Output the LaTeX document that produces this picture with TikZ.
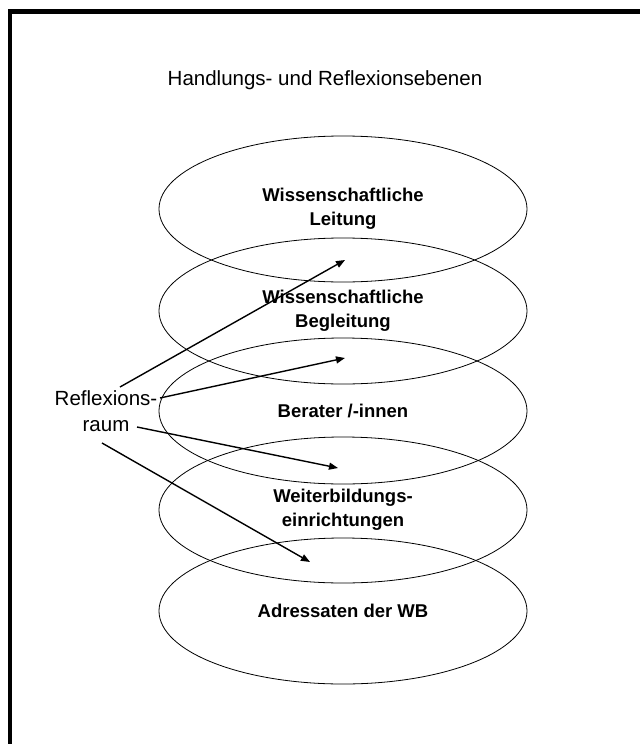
\documentclass[tikz,border=0pt]{standalone}
\usepackage{fontspec}
\setmainfont{Liberation Sans}
\usetikzlibrary{arrows.meta,shapes.geometric}

\tikzset{
  ebene/.style={ellipse, draw, line width=0.8pt, minimum width=368pt, minimum height=146pt,
    inner sep=0pt, align=center, font=\bfseries\fontsize{18.5}{24}\selectfont},
  pfeil/.style={-{Triangle[length=9pt,width=7pt]}, line width=1.4pt},
}

\begin{document}
\begin{tikzpicture}[x=1pt,y=-1pt]
    \useasboundingbox (0,0) rectangle (640,744);
    % rahmen
    \fill (8,9) rectangle (12,744);
    \fill (8,9) rectangle (640,11.5);
    \draw[line width=1.2pt] (12,13) -- (640,13);

    \node[font=\fontsize{20.5}{25}\selectfont] (titel) at (325,80) {Handlungs- und Reflexionsebenen};

    \node[ebene] (leitung) at (343,209) {Wissenschaftliche\\Leitung};
    \node[ebene] (begleitung) at (343,311) {Wissenschaftliche\\Begleitung};
    \node[ebene] (berater) at (343,411) {Berater /-innen};
    \node[ebene] (einrichtungen) at (343,510) {Weiterbildungs-\\einrichtungen};
    \node[ebene] (adressaten) at (343,611) {Adressaten der WB};

    \node[font=\fontsize{20.5}{26}\selectfont, align=center] (raum) at (106,411) {Reflexions-\\raum};

    % pfeile
    \coordinate (s1) at (120,387);
    \coordinate (s2) at (160,398);
    \coordinate (s3) at (137,427);
    \coordinate (s4) at (102,443);
    \coordinate (z1) at (345,260);
    \coordinate (z2) at (345,358);
    \coordinate (z3) at (338,468);
    \coordinate (z4) at (310,562);
    \draw[pfeil] (s1) -- (z1);
    \draw[pfeil] (s2) -- (z2);
    \draw[pfeil] (s3) -- (z3);
    \draw[pfeil] (s4) -- (z4);
\end{tikzpicture}
\end{document}
